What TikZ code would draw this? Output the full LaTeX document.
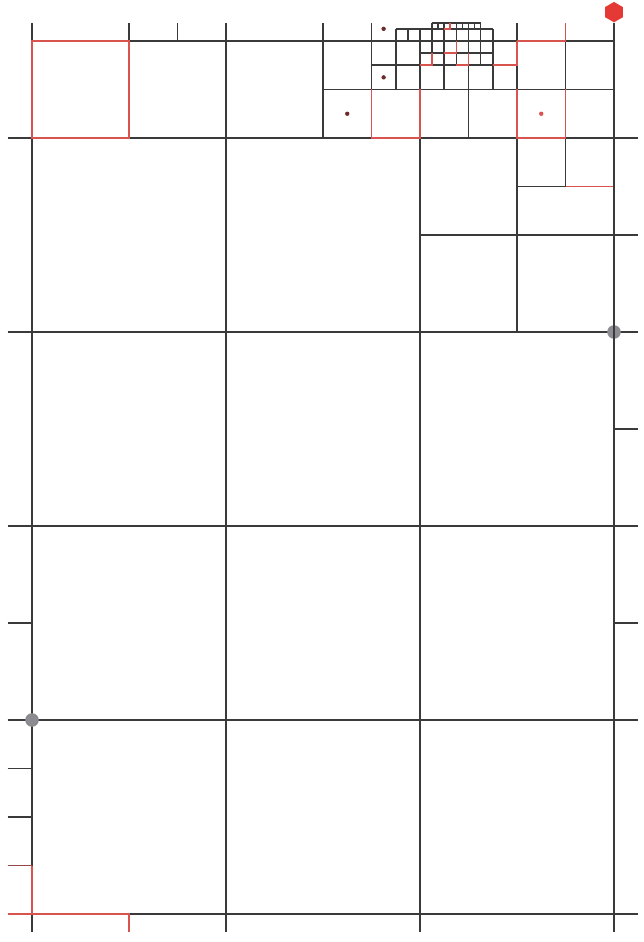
\documentclass[tikz,border=0pt]{standalone}
\usepackage{xcolor}
\definecolor{MeshGray}{HTML}{3A3A3A}
\definecolor{MeshRed}{HTML}{D9534F}
\definecolor{HexRed}{HTML}{E53935}
\definecolor{DotGray}{HTML}{8C8C92}
\definecolor{DotBrown}{HTML}{6E2B2B}
\usepackage{tikz}
\usetikzlibrary{shapes.geometric}

\begin{document}
\begin{tikzpicture}[x=0.25cm,y=0.25cm,
  mesh/.style={line width=0.5pt,MeshGray},
  hot/.style={line width=0.5pt,MeshRed},
  gdot/.style={circle,fill=DotGray,inner sep=0pt,minimum size=0.14cm},
  cdot/.style={circle,fill=DotBrown,inner sep=0pt,minimum size=0.045cm},
  hexa/.style={regular polygon,regular polygon sides=6,shape border rotate=30,fill=HexRed,inner sep=0pt,minimum size=0.21cm}
]
  \useasboundingbox (-1.3196,-1.1546) rectangle (25.196,37.691);
  % coarse grid
  \foreach \x in {0,8} \draw[mesh] (\x,-0.75) -- (\x,36.75);
  \draw[mesh] (16,-0.75) -- (16,36.5);
  \foreach \y in {0,8,...,32} \draw[mesh] (-1,\y) -- (25,\y);
  \draw[mesh] (0,36) -- (24,36);
  % level 1
  \foreach \x in {4,12} \draw[mesh] (\x,32) -- (\x,36.75);
  \draw[mesh] (20,24) -- (20,36.75);
  \draw[mesh] (16,28) -- (25,28);
  \draw[mesh] (6,36) -- (6,36.75);
  \foreach \y in {12,20} \draw[mesh] (24,\y) -- (25,\y);
  \foreach \y in {2,4,6,12} \draw[mesh] (-1,\y) -- (0,\y);
  % level 2
  \draw[mesh] (12,34) -- (24,34);
  \foreach \x in {14,18} \draw[mesh] (\x,32) -- (\x,36.75);
  \draw[mesh] (22,30) -- (22,36.75);
  \draw[mesh] (20,30) -- (24,30);
  % level 3
  \draw[mesh] (14,35) -- (20,35);
  \foreach \x in {15,19} \draw[mesh] (\x,34) -- (\x,36.5);
  \draw[mesh] (17,34) -- (17,36.75);
  % level 4
  \draw[mesh] (16,35.5) -- (19,35.5);
  \draw[mesh] (15,36.5) -- (19,36.5);
  \foreach \x in {16.5,17.5,18.5} \draw[mesh] (\x,35) -- (\x,36.75);
  \draw[mesh] (15.5,36) -- (15.5,36.5);
  % level 5
  \draw[mesh] (16.5,36.75) -- (18.5,36.75);
  \foreach \x in {16.75,17.25,17.75,18.25} \draw[mesh] (\x,36.5) -- (\x,36.75);
  % marked cells
  \draw[hot] (0,32) rectangle (4,36);
  \draw[hot] (14,34) -- (14,32) -- (16,32) -- (16,34);
  \draw[hot] (20,34) -- (20,32) -- (22,32) -- (22,34);
  \draw[hot] (22,30) -- (24,30) -- (24,32);
  \draw[hot] (20,36) -- (22,36) -- (22,36.75);
  \draw[hot] (19,35) -- (20,35) -- (20,36);
  \draw[hot] (16,35) -- (16.5,35) -- (16.5,35.5);
  \draw[hot] (17.5,35) -- (18,35) -- (18,35.5);
  \draw[hot] (17,35.5) -- (17.5,35.5) -- (17.5,36);
  \draw[hot] (17,36.5) -- (17.25,36.5) -- (17.25,36.75);
  \draw[hot] (-1,0) -- (4,0) -- (4,-0.75);
  \draw[hot] (0,0) -- (0,2);
  \draw[hot,MeshRed!55!MeshGray] (-1,2) -- (0,2);
  % points
  \node[cdot] (c1) at (13,33) {};
  \node[cdot] (c2) at (14.5,34.5) {};
  \node[cdot] (c3) at (14.5,36.5) {};
  \node[cdot,fill=MeshRed] (c4) at (21,33) {};
  \node[gdot] (g1) at (24,24) {};
  \node[gdot] (g2) at (0,8) {};
  \node[hexa] (src) at (24,37.19) {};
  \draw[mesh] (24,-0.75) -- (src);
\end{tikzpicture}
\end{document}
